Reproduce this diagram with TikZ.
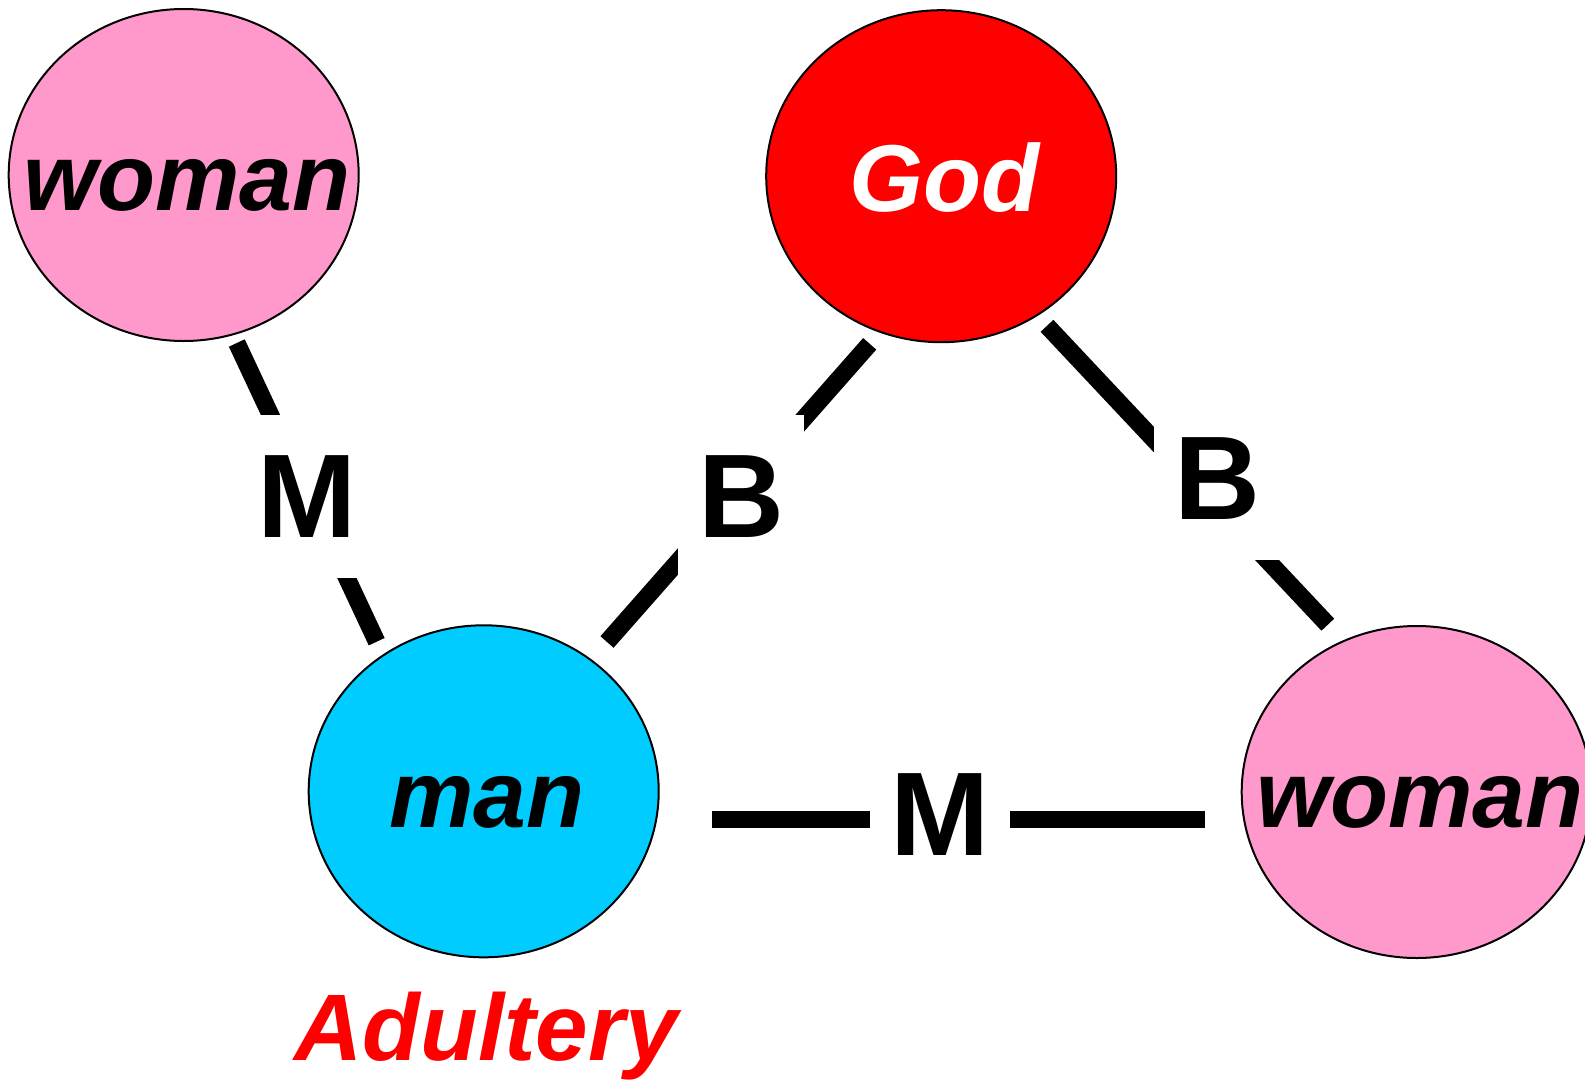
\documentclass[tikz,border=0pt]{standalone}
\usepackage{fontspec}
\setmainfont{Liberation Sans}
\usetikzlibrary{shapes.geometric}
\definecolor{pinkfill}{RGB}{255,153,204}
\definecolor{cyanfill}{RGB}{0,204,255}
\definecolor{godred}{RGB}{255,0,0}
\newcommand{\centred}[1]{\makebox[0pt]{\hspace*{7pt}#1}}
\begin{document}
\begin{tikzpicture}[x=1pt,y=-1pt,
  person/.style={ellipse, draw=black, line width=2pt, minimum width=350pt, minimum height=332pt, inner sep=0pt,
    font=\fontsize{95}{95}\selectfont\bfseries\itshape, text height=80pt, text depth=8.6pt},
  conn/.style={line width=17.5pt, line cap=butt},
  rel/.style={fill=white, inner xsep=20pt, inner ysep=0pt, minimum height=163pt,
    font=\fontsize{119}{119}\selectfont\bfseries},
  caption/.style={inner sep=0pt, text=godred, font=\fontsize{94.5}{94.5}\selectfont\bfseries\itshape}]
\useasboundingbox (0,0) rectangle (1585,1082);
% persons
\node[person, fill=pinkfill] (w1) at (183.7,175) {\centred{woman}};
\node[person, fill=godred, text=white] (god) at (941.2,176.2) {\centred{God}};
\node[person, fill=cyanfill] (man) at (483.7,791.3) {\centred{man}};
\node[person, fill=pinkfill] (w2) at (1416.7,792) {\centred{woman}};
% connector end points
\coordinate (a1) at (236.8,343);
\coordinate (a2) at (376.7,641.7);
\coordinate (b1) at (869.7,343.8);
\coordinate (b2) at (607,642);
\coordinate (c1) at (1047,325.8);
\coordinate (c2) at (1327.8,624.7);
\coordinate (d1) at (712,819.5);
\coordinate (d2) at (1204.5,819.5);
% connectors
\draw[conn] (a1) -- (a2);
\draw[conn] (b1) -- (b2);
\draw[conn] (c1) -- (c2);
\draw[conn] (d1) -- (d2);
% labels
\node[rel] (m1) at (306.7,496.2) {M};
\node[rel] (bl) at (741.3,496.2) {B};
\node[rel] (br) at (1217.2,478.3) {B};
\node[rel] (m2) at (940,814.5) {M};
\node[caption, anchor=base] (adult) at (486,1060) {Adultery};
\end{tikzpicture}
\end{document}
